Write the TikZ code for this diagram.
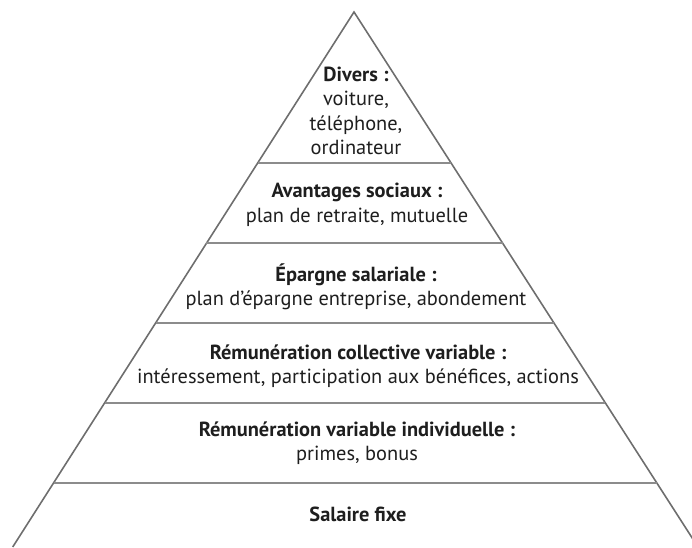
\documentclass[tikz,border=0pt]{standalone}
\usepackage{fontspec}
\setmainfont{PT Sans}
\usetikzlibrary{calc}
\definecolor{edge}{HTML}{6E6E6E}
\definecolor{tier}{HTML}{8C8C8C}
\definecolor{ink}{HTML}{1E1E1E}
\begin{document}
\begin{tikzpicture}[x=1pt,y=-1pt,
  side/.style={draw=edge,line width=1.6pt},
  tierline/.style={draw=tier,line width=2pt},
  label/.style={align=center,text=ink,inner sep=0pt,
    font=\fontsize{20.4}{24.5}\selectfont}]
\useasboundingbox (0,0) rectangle (692,547);
\clip (0,0) rectangle (692,547);
% pyramid outline
\coordinate (apex) at (354,12);
\coordinate (bl) at (12.7,547);
\coordinate (br) at (698,547);
\draw[side] (bl) -- (apex) -- (br);
% tier separators
\foreach \t/\n in {0.2822/1,0.4327/2,0.5813/3,0.7299/4,0.8804/5}{
  \coordinate (l\n) at ($(apex)!\t!(bl)$);
  \coordinate (r\n) at ($(apex)!\t!(br)$);
  \draw[tierline] (l\n) -- (r\n);
}
% tier texts
\node[label] (divers) at (356,111) {\textbf{Divers :}\\voiture,\\téléphone,\\ordinateur};
\node[label] (avantages) at (357,205) {\textbf{Avantages sociaux :}\\plan de retraite, mutuelle};
\node[label] (epargne) at (356,287) {\textbf{Épargne salariale :}\\plan d’épargne entreprise, abondement};
\node[label] (collective) at (358,366) {\textbf{Rémunération collective variable :}\\intéressement, participation aux bénéfices, actions};
\node[label] (individuelle) at (357,443) {\textbf{Rémunération variable individuelle :}\\primes, bonus};
\node[label] (fixe) at (358,514) {\textbf{Salaire fixe}};
\end{tikzpicture}
\end{document}
